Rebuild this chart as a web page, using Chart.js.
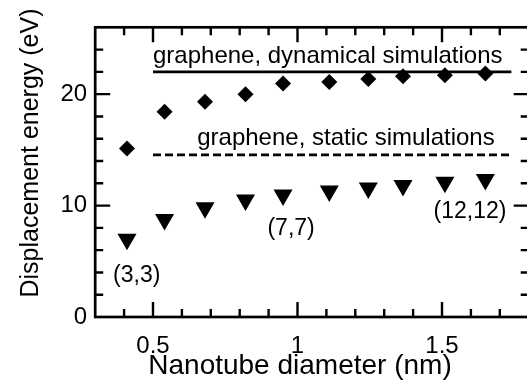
<!DOCTYPE html>
<html><head><meta charset="utf-8">
<script src="https://cdn.jsdelivr.net/npm/chart.js@4/dist/chart.umd.min.js"></script>
<style>
html,body{margin:0;padding:0;background:#fff;overflow:hidden;width:527px;height:387px}
#wrap{width:540px;height:387px}
</style></head><body>
<div id="wrap"><canvas id="c" width="540" height="387"></canvas></div>
<script>
const diameters = [0.41, 0.54, 0.68, 0.82, 0.95, 1.11, 1.245, 1.365, 1.51, 1.65];
const dynamicalEnergy = [15.13, 18.41, 19.31, 20.0, 20.96, 21.1, 21.35, 21.6, 21.7, 21.86];
const staticEnergy = [6.97, 8.74, 9.8, 10.5, 10.94, 11.3, 11.57, 11.81, 12.1, 12.35];
const grapheneDynamical = 22.0;
const grapheneStatic = 14.55;
const grapheneRange = [0.5, 1.74];
const xTickLabels = [0.5, 1, 1.5];
const yTickLabels = [0, 10, 20];
const xRange = [0.3, 1.8];
const yRange = [0, 26];
const captionTexts = ['graphene, dynamical simulations', 'graphene, static simulations'];
const captionX = [0.5, 0.653];
const captionY = [22.76, 15.43];
const tubeLabels = ['(3,3)', '(7,7)', '(12,12)'];
const tubeLabelX = [0.362, 0.896, 1.471];
const tubeLabelY = [3.17, 7.35, 8.85];
const xTitle = 'Nanotube diameter (nm)';
const yTitle = 'Displacement energy (eV)';

const FONT = '"Liberation Sans", Arial, Helvetica, sans-serif';

const framePlugin = {
  id: 'frame',
  afterDraw(chart) {
    const ctx = chart.ctx, a = chart.chartArea, x = chart.scales.x, y = chart.scales.y;
    ctx.save();
    ctx.strokeStyle = '#000';
    ctx.lineWidth = 2.7;
    ctx.strokeRect(a.left, a.top, a.right - a.left, a.bottom - a.top);
    ctx.lineWidth = 2.4;
    ctx.beginPath();
    const i0 = Math.round(xRange[0] * 10), i1 = Math.round(xRange[1] * 10);
    for (let i = i0 + 1; i < i1; i++) {
      const px = x.getPixelForValue(i / 10);
      const len = i % 5 === 0 ? 15 : 8;
      ctx.moveTo(px, a.bottom); ctx.lineTo(px, a.bottom - len);
      ctx.moveTo(px, a.top); ctx.lineTo(px, a.top + len);
    }
    for (let v = yRange[0] + 2; v < yRange[1]; v += 2) {
      const py = y.getPixelForValue(v);
      const len = v % 10 === 0 ? 15 : 8;
      ctx.moveTo(a.left, py); ctx.lineTo(a.left + len, py);
      ctx.moveTo(a.right, py); ctx.lineTo(a.right - len, py);
    }
    ctx.stroke();

    ctx.fillStyle = '#000';
    ctx.textBaseline = 'alphabetic';
    ctx.textAlign = 'left';
    ctx.font = '24px ' + FONT;
    captionTexts.forEach((t, i) => {
      ctx.fillText(t, x.getPixelForValue(captionX[i]), y.getPixelForValue(captionY[i]));
    });
    ctx.font = '23px ' + FONT;
    tubeLabels.forEach((t, i) => {
      ctx.fillText(t, x.getPixelForValue(tubeLabelX[i]), y.getPixelForValue(tubeLabelY[i]));
    });

    ctx.textAlign = 'center';
    ctx.font = '28px ' + FONT;
    ctx.fillText(xTitle, 300, 374);
    ctx.save();
    ctx.translate(38, 153);
    ctx.rotate(-Math.PI / 2);
    ctx.font = '25px ' + FONT;
    ctx.fillText(yTitle, 0, 0);
    ctx.restore();
    ctx.restore();
  }
};

new Chart(document.getElementById('c'), {
  type: 'scatter',
  data: {
    datasets: [
      {
        label: 'dynamical',
        data: diameters.map((d, i) => ({ x: d, y: dynamicalEnergy[i] })),
        pointStyle: 'rectRot', pointRadius: 8, backgroundColor: '#000', borderWidth: 0, showLine: false
      },
      {
        label: 'static',
        data: diameters.map((d, i) => ({ x: d, y: staticEnergy[i] })),
        pointStyle: 'triangle', rotation: 180, pointRadius: 11, backgroundColor: '#000', borderWidth: 0, showLine: false
      },
      {
        label: 'graphene dynamical',
        data: grapheneRange.map(v => ({ x: v, y: grapheneDynamical })),
        showLine: true, borderColor: '#000', borderWidth: 2.7, pointRadius: 0, fill: false
      },
      {
        label: 'graphene static',
        data: grapheneRange.map(v => ({ x: v, y: grapheneStatic })),
        showLine: true, borderColor: '#000', borderWidth: 2.7, borderDash: [8, 4], pointRadius: 0, fill: false
      }
    ]
  },
  options: {
    responsive: false,
    animation: false,
    devicePixelRatio: 1,
    layout: { padding: { left: 0, right: 11.3, top: 27.3, bottom: 0 } },
    plugins: { legend: { display: false }, tooltip: { enabled: false } },
    scales: {
      x: {
        type: 'linear', min: xRange[0], max: xRange[1],
        afterBuildTicks: s => { s.ticks = xTickLabels.map(v => ({ value: v })); },
        afterFit: s => { s.height = 70; },
        grid: { display: false, drawTicks: false },
        border: { display: false },
        ticks: { color: '#000', padding: 15, font: { size: 24, family: FONT }, callback: v => String(v), maxRotation: 0 }
      },
      y: {
        type: 'linear', min: yRange[0], max: yRange[1],
        afterBuildTicks: s => { s.ticks = yTickLabels.map(v => ({ value: v })); },
        afterFit: s => { s.width = 95.2; },
        grid: { display: false, drawTicks: false },
        border: { display: false },
        ticks: { color: '#000', padding: 8, font: { size: 24, family: FONT }, callback: v => String(v) }
      }
    }
  },
  plugins: [framePlugin]
});
</script>
</body></html>
